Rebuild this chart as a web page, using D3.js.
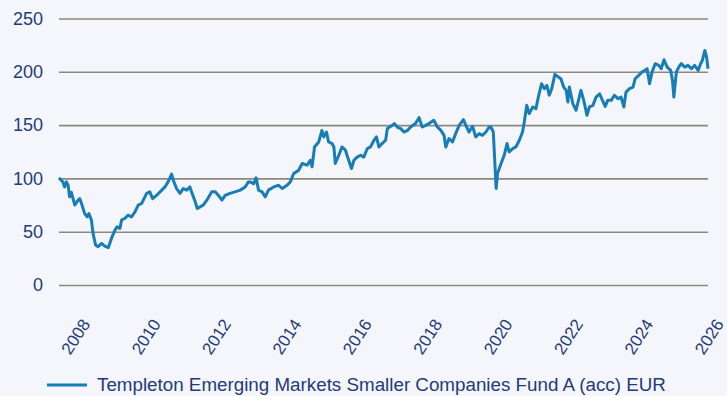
<!DOCTYPE html>
<html>
<head>
<meta charset="utf-8">
<script src="https://cdn.jsdelivr.net/npm/d3@7"></script>
<style>
  html, body { margin: 0; padding: 0; background: #f5f6fb; }
  svg { display: block; font-family: "Liberation Sans", Arial, sans-serif; }
</style>
</head>
<body>
<svg id="chart" width="727" height="396"></svg>
<script>
// Fund performance, rebased to 100 at launch (decimal years)
const years = [
  2007.79, 2007.90, 2007.95, 2008.00, 2008.05, 2008.09, 2008.14, 2008.24, 2008.33, 2008.38,
  2008.43, 2008.52, 2008.59, 2008.64, 2008.71, 2008.76, 2008.83, 2008.90, 2009.00, 2009.09,
  2009.19, 2009.28, 2009.38, 2009.44, 2009.52, 2009.57, 2009.66, 2009.75, 2009.85, 2009.95,
  2010.04, 2010.14, 2010.28, 2010.37, 2010.45, 2010.56, 2010.71, 2010.80, 2010.89, 2010.99,
  2011.04, 2011.13, 2011.23, 2011.32, 2011.42, 2011.51, 2011.56, 2011.66, 2011.72, 2011.80,
  2011.89, 2011.99, 2012.13, 2012.23, 2012.32, 2012.42, 2012.51, 2012.65, 2012.79, 2012.94,
  2013.08, 2013.17, 2013.22, 2013.32, 2013.39, 2013.46, 2013.56, 2013.65, 2013.74, 2013.89,
  2014.03, 2014.13, 2014.27, 2014.36, 2014.46, 2014.60, 2014.70, 2014.84, 2014.93, 2014.98,
  2015.05, 2015.17, 2015.26, 2015.31, 2015.39, 2015.45, 2015.55, 2015.60, 2015.64, 2015.74,
  2015.83, 2015.93, 2015.99, 2016.10, 2016.17, 2016.26, 2016.36, 2016.45, 2016.55, 2016.64,
  2016.74, 2016.81, 2016.88, 2016.97, 2017.07, 2017.12, 2017.26, 2017.32, 2017.40, 2017.50,
  2017.59, 2017.69, 2017.78, 2017.92, 2018.02, 2018.11, 2018.21, 2018.30, 2018.44, 2018.54,
  2018.64, 2018.73, 2018.78, 2018.87, 2018.97, 2019.06, 2019.16, 2019.28, 2019.35, 2019.44,
  2019.54, 2019.63, 2019.73, 2019.82, 2019.92, 2020.01, 2020.06, 2020.13, 2020.21, 2020.25,
  2020.35, 2020.44, 2020.52, 2020.58, 2020.68, 2020.77, 2020.87, 2020.96, 2021.01, 2021.08,
  2021.15, 2021.25, 2021.34, 2021.41, 2021.50, 2021.58, 2021.65, 2021.72, 2021.79, 2021.88,
  2021.98, 2022.05, 2022.13, 2022.20, 2022.25, 2022.29, 2022.39, 2022.48, 2022.55, 2022.62,
  2022.70, 2022.79, 2022.86, 2022.96, 2023.05, 2023.15, 2023.21, 2023.31, 2023.38, 2023.48,
  2023.57, 2023.67, 2023.76, 2023.84, 2023.90, 2024.00, 2024.10, 2024.16, 2024.26, 2024.35,
  2024.43, 2024.50, 2024.57, 2024.64, 2024.73, 2024.83, 2024.90, 2024.98, 2025.07, 2025.17,
  2025.22, 2025.26, 2025.33, 2025.40, 2025.47, 2025.57, 2025.66, 2025.76, 2025.85, 2025.95,
  2026.02, 2026.07, 2026.14, 2026.19, 2026.23
];
const values = [
  100.5, 96.7, 92.0, 96.7, 93.6, 82.7, 87.0, 75.0, 79.6, 81.0,
  76.5, 67.0, 64.0, 67.0, 61.0, 48.0, 37.5, 36.0, 39.0, 36.5,
  35.0, 43.7, 51.5, 54.6, 53.0, 61.0, 62.4, 65.5, 64.0, 68.6,
  75.0, 76.5, 85.9, 87.4, 81.0, 84.0, 89.0, 92.0, 96.7, 104.0,
  98.0, 90.5, 86.0, 90.5, 89.0, 92.0, 87.0, 78.0, 71.8, 73.3,
  75.0, 79.6, 87.4, 87.4, 84.0, 79.6, 84.0, 86.0, 87.4, 89.0,
  92.0, 96.7, 96.7, 95.0, 100.5, 89.0, 87.4, 82.7, 89.0, 92.0,
  93.6, 90.5, 93.6, 96.7, 104.6, 107.7, 114.0, 112.4, 117.0, 110.8,
  129.5, 134.2, 145.0, 138.9, 143.5, 134.2, 132.7, 129.5, 114.0, 121.7,
  129.5, 126.4, 120.0, 109.3, 117.0, 120.0, 121.7, 120.0, 128.0, 129.5,
  135.8, 138.9, 129.5, 132.7, 135.8, 146.7, 149.8, 151.4, 148.2, 146.7,
  143.5, 145.0, 148.2, 151.4, 157.0, 148.2, 149.8, 151.4, 154.5, 148.2,
  145.0, 140.4, 129.5, 137.4, 134.2, 142.0, 149.8, 155.1, 149.8, 143.5,
  148.9, 138.9, 142.0, 140.4, 143.5, 148.2, 148.2, 143.5, 90.5, 104.6,
  114.0, 121.7, 132.7, 124.8, 128.0, 129.5, 135.8, 143.5, 152.9, 168.5,
  160.8, 167.0, 165.4, 176.3, 188.8, 184.2, 187.3, 178.0, 184.2, 197.6,
  195.0, 193.5, 185.7, 182.6, 171.6, 185.7, 170.1, 163.9, 173.2, 182.6,
  173.2, 159.2, 167.0, 168.5, 176.3, 179.4, 174.8, 167.6, 173.2, 173.2,
  178.0, 174.8, 176.3, 167.0, 181.0, 184.2, 185.7, 193.5, 196.6, 199.7,
  201.3, 202.9, 188.8, 199.7, 207.6, 206.0, 202.9, 211.3, 204.4, 201.3,
  192.0, 176.3, 199.7, 204.4, 207.6, 204.4, 206.0, 202.9, 206.0, 201.3,
  207.6, 210.7, 220.0, 213.8, 202.9
];
const yTicks = [0, 50, 100, 150, 200, 250];
const xTicks = [2008, 2010, 2012, 2014, 2016, 2018, 2020, 2022, 2024, 2026];
const seriesName = "Templeton Emerging Markets Smaller Companies Fund A (acc) EUR";

const lineColor = "#177db6";
const textColor = "#1f3b7a";
const gridColor = "#8c8981";

const svg = d3.select("#chart");
const plot = { left: 59, right: 708, top: 18.5, bottom: 285 };

const x = d3.scaleLinear()
  .domain([years[0], years[years.length - 1]])
  .range([plot.left, plot.right]);
const y = d3.scaleLinear()
  .domain([0, 250])
  .range([plot.bottom, plot.top]);

// horizontal gridlines
const yAxis = d3.axisLeft(y)
  .tickValues(yTicks)
  .tickSize(-(plot.right - plot.left))
  .tickPadding(16)
  .tickFormat(d3.format("d"));
const gy = svg.append("g")
  .attr("transform", `translate(${plot.left},0)`)
  .call(yAxis);
gy.select(".domain").remove();
gy.selectAll(".tick line")
  .attr("stroke", gridColor)
  .attr("stroke-width", 1.6);
gy.selectAll(".tick text")
  .attr("fill", textColor)
  .style("font-size", "18px");

// year labels along the bottom, rotated
const xAxis = d3.axisBottom(x)
  .tickValues(xTicks)
  .tickSize(0)
  .tickFormat(d3.format("d"));
const gx = svg.append("g")
  .attr("transform", `translate(0,${plot.bottom})`)
  .call(xAxis);
gx.select(".domain").remove();
gx.selectAll(".tick text")
  .attr("fill", textColor)
  .style("font-size", "17px")
  .attr("text-anchor", "end")
  .attr("dy", null)
  .attr("y", null)
  .attr("transform", "translate(24,39) rotate(-57)");

// fund line
const line = d3.line()
  .x((d, i) => x(years[i]))
  .y(d => y(d))
  .curve(d3.curveLinear);
svg.append("path")
  .datum(values)
  .attr("fill", "none")
  .attr("stroke", lineColor)
  .attr("stroke-width", 3)
  .attr("stroke-linejoin", "round")
  .attr("d", line);

// legend
const legend = svg.append("g").attr("transform", "translate(47,385)");
legend.append("line")
  .attr("x1", 0).attr("x2", 40)
  .attr("y1", 0).attr("y2", 0)
  .attr("stroke", lineColor)
  .attr("stroke-width", 3);
legend.append("text")
  .attr("x", 50)
  .attr("y", 5.5)
  .attr("fill", textColor)
  .style("font-size", "18.8px")
  .text(seriesName);
</script>
</body>
</html>
